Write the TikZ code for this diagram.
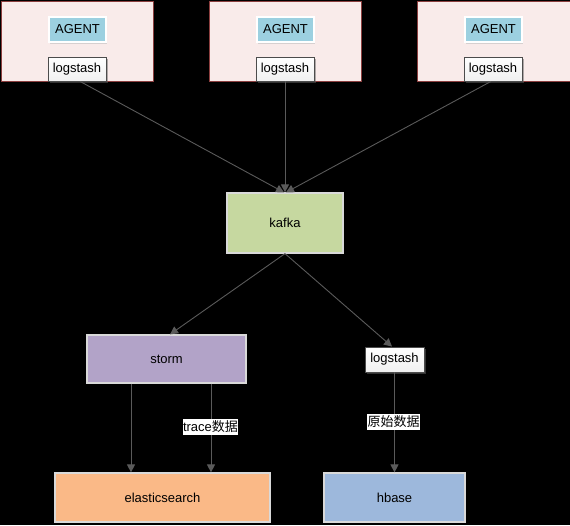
\documentclass[tikz,border=0pt]{standalone}
\usepackage{fontspec}
\setmainfont{Liberation Sans}
\newfontfamily\cjk{Noto Sans CJK SC}
\usetikzlibrary{arrows.meta,shadows}
\definecolor{grpfill}{HTML}{F9EBEA}
\definecolor{grpdraw}{HTML}{8C3F3F}
\definecolor{agentfill}{HTML}{9CD0E0}
\definecolor{kafkafill}{HTML}{C6D8A0}
\definecolor{stormfill}{HTML}{B2A3C8}
\definecolor{esfill}{HTML}{FAB987}
\definecolor{hbasefill}{HTML}{9DB8DC}
\definecolor{linecol}{HTML}{5A5A5A}
\tikzset{
  base/.style={font=\fontsize{13}{15}\selectfont, text=black, inner sep=0pt, anchor=center},
  grp/.style={base, draw=grpdraw, fill=grpfill, line width=1pt},
  agent/.style={base, fill=agentfill, draw=white, line width=1.2pt, minimum width=57pt, minimum height=25pt,
    drop shadow={shadow xshift=1pt, shadow yshift=-2pt, fill=black!25, opacity=0.6}},
  lsbox/.style={base, draw=black!70, line width=0.8pt, top color=white, bottom color=black!6,
    minimum width=58pt, minimum height=24pt,
    drop shadow={shadow xshift=2pt, shadow yshift=-2pt, fill=black!60}},
  proc/.style={base, draw=white!85!black, line width=1.2pt},
  arr/.style={draw=linecol, line width=0.9pt, -{Triangle[length=8pt,width=8pt]}, shorten >=0pt},
  lbl/.style={font=\fontsize{13}{15}\selectfont, fill=white, text=black, inner xsep=0.5pt, inner ysep=2pt}
}
\begin{document}
\begin{tikzpicture}[x=1pt,y=-1pt]
\fill[black] (0,0) rectangle (570,525);
\useasboundingbox (0,0) rectangle (570,525);

% agent groups
\node[grp, minimum width=152pt, minimum height=80pt] (g1) at (77,41) {};
\node[grp, minimum width=152pt, minimum height=80pt] (g2) at (285,41) {};
\node[grp, minimum width=156pt, minimum height=80pt] (g3) at (495,41) {};

\node[agent] (a1) at (77.5,29.5) {AGENT};
\node[agent] (a2) at (285.5,29.5) {AGENT};
\node[agent] (a3) at (493.5,29.5) {AGENT};

\node[lsbox] (l1) at (77,69) {logstash};
\node[lsbox] (l2) at (285,69) {logstash};
\node[lsbox] (l3) at (493,69) {logstash};

% processing nodes
\node[proc, fill=kafkafill, minimum width=116pt, minimum height=60pt] (kafka) at (285,223) {kafka};
\node[proc, fill=stormfill, minimum width=159pt, minimum height=48pt] (storm) at (166.5,359) {storm};
\node[lsbox, minimum width=59pt, minimum height=25pt] (l4) at (394.5,359.5) {logstash};
\node[proc, fill=esfill, minimum width=215pt, minimum height=49pt] (es) at (162.5,497.5) {elasticsearch};
\node[proc, fill=hbasefill, minimum width=141pt, minimum height=49pt] (hbase) at (394.5,497.5) {hbase};

% connectors
\draw[arr] ([xshift=3pt]l1.south) -- ([xshift=-1pt]kafka.north);
\draw[arr] (l2.south) -- (kafka.north);
\draw[arr] ([xshift=-2pt]l3.south) -- ([xshift=1pt]kafka.north);

\draw[arr] (kafka.south) -- ([xshift=3.5pt]storm.north);
\draw[arr] (kafka.south) -- ([xshift=-2.5pt]l4.north);

\draw[arr] (storm.south -| 131,0) -- (es.north -| 131,0);
\draw[arr] (storm.south -| 211,0) -- (es.north -| 211,0);
\node[lbl] (t1) at (210.5,426.5) {trace{\cjk 数据}};

\draw[arr] (l4.south) -- (hbase.north);
\node[lbl] (t2) at (393.5,421.5) {\cjk 原始数据};
\end{tikzpicture}
\end{document}
